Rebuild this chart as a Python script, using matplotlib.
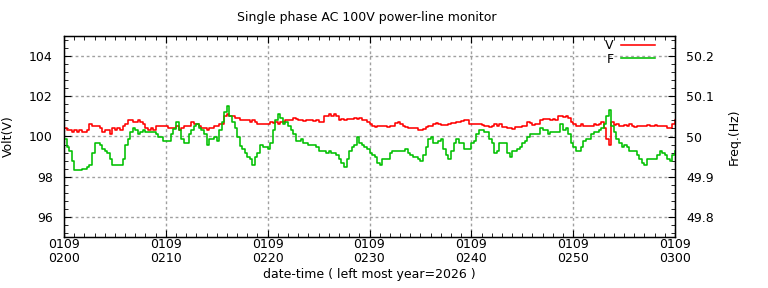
import numpy as np
import matplotlib
matplotlib.use("Agg")
import matplotlib.pyplot as plt
from matplotlib.ticker import MultipleLocator, FuncFormatter

# minutes after 01/09 02:00, one reading every 15 s
minutes = np.arange(241) * 0.25

volt = [
    100.4, 100.3, 100.3, 100.2, 100.3, 100.2, 100.3, 100.2, 100.2, 100.3,
    100.6, 100.5, 100.5, 100.5, 100.4, 100.2, 100.3, 100.3, 100.1, 100.4,
    100.3, 100.4, 100.3, 100.5, 100.6, 100.8, 100.8, 100.7, 100.7, 100.8,
    100.7, 100.6, 100.4, 100.3, 100.4, 100.3, 100.5, 100.5, 100.5, 100.5,
    100.5, 100.4, 100.4, 100.4, 100.5, 100.3, 100.4, 100.5, 100.5, 100.5,
    100.7, 100.6, 100.6, 100.5, 100.4, 100.4, 100.3, 100.4, 100.4, 100.5,
    100.5, 100.6, 100.6, 101.0, 101.1, 101.0, 101.0, 100.9, 100.9, 100.8,
    100.8, 100.8, 100.8, 100.7, 100.8, 100.7, 100.6, 100.6, 100.6, 100.6,
    100.6, 100.7, 100.65, 100.7, 100.6, 100.7, 100.7, 100.8, 100.8, 100.8,
    100.9, 100.85, 100.8, 100.8, 100.75, 100.8, 100.8, 100.8, 100.75, 100.8,
    100.7, 100.7, 101.0, 101.0, 101.1, 101.0, 101.1, 101.0, 100.8, 100.85,
    100.8, 100.85, 100.85, 100.85, 100.9, 100.85, 100.9, 100.8, 100.8, 100.7,
    100.6, 100.5, 100.45, 100.5, 100.5, 100.5, 100.5, 100.45, 100.5, 100.5,
    100.65, 100.7, 100.6, 100.5, 100.45, 100.4, 100.4, 100.4, 100.4, 100.3,
    100.3, 100.35, 100.45, 100.5, 100.5, 100.6, 100.65, 100.6, 100.55, 100.55,
    100.55, 100.6, 100.65, 100.65, 100.7, 100.7, 100.75, 100.8, 100.8, 100.6,
    100.6, 100.6, 100.6, 100.6, 100.55, 100.5, 100.5, 100.45, 100.5, 100.6,
    100.5, 100.6, 100.45, 100.45, 100.4, 100.4, 100.35, 100.45, 100.45, 100.45,
    100.5, 100.5, 100.7, 100.65, 100.55, 100.6, 100.6, 100.8, 100.85, 100.85,
    100.85, 100.8, 100.85, 100.8, 101.0, 101.0, 100.95, 101.0, 100.9, 100.7,
    100.6, 100.5, 100.5, 100.6, 100.5, 100.5, 100.5, 100.5, 100.6, 100.55,
    100.6, 100.7, 100.4, 99.9, 99.6, 100.7, 100.55, 100.6, 100.5, 100.5,
    100.55, 100.5, 100.6, 100.5, 100.45, 100.5, 100.5, 100.5, 100.5, 100.55,
    100.5, 100.5, 100.55, 100.5, 100.5, 100.5, 100.5, 100.4, 100.4, 100.6,
    100.8,
]

freq = [
    49.995, 49.975, 49.963, 49.94, 49.916, 49.916, 49.916, 49.92, 49.92, 49.925,
    49.93, 49.96, 49.983, 49.983, 49.98, 49.97, 49.965, 49.96, 49.945, 49.93,
    49.93, 49.93, 49.93, 49.945, 49.98, 49.995, 50.01, 50.02, 50.015, 50.005,
    50.01, 50.015, 50.01, 50.01, 50.01, 50.01, 50.005, 50.0, 50.0, 49.99,
    49.99, 49.99, 50.005, 50.018, 50.035, 50.015, 49.995, 49.985, 49.985, 50.005,
    50.015, 50.025, 50.03, 50.02, 50.015, 50.005, 49.98, 49.995, 49.995, 50.0,
    49.99, 50.015, 50.037, 50.06, 50.076, 50.05, 50.035, 50.02, 50.0, 49.977,
    49.97, 49.96, 49.95, 49.945, 49.93, 49.95, 49.96, 49.98, 49.975, 49.975,
    49.97, 49.985, 50.015, 50.04, 50.055, 50.045, 50.03, 50.035, 50.025, 50.015,
    50.005, 49.99, 49.99, 49.995, 49.985, 49.985, 49.98, 49.98, 49.98, 49.975,
    49.965, 49.965, 49.965, 49.96, 49.965, 49.96, 49.96, 49.955, 49.945, 49.935,
    49.925, 49.945, 49.965, 49.975, 49.98, 50.0, 49.985, 49.98, 49.975, 49.97,
    49.96, 49.955, 49.95, 49.935, 49.93, 49.945, 49.945, 49.945, 49.96, 49.965,
    49.965, 49.965, 49.965, 49.965, 49.97, 49.96, 49.955, 49.95, 49.95, 49.945,
    49.94, 49.955, 49.975, 49.995, 50.0, 49.985, 49.985, 49.99, 49.995, 49.97,
    49.955, 49.945, 49.965, 49.985, 49.995, 49.985, 49.985, 49.97, 49.97, 49.97,
    49.985, 49.99, 50.005, 50.015, 50.015, 50.01, 50.01, 49.995, 49.985, 49.96,
    49.965, 49.985, 49.985, 49.985, 49.96, 49.95, 49.965, 49.965, 49.97, 49.975,
    49.985, 49.99, 50.0, 50.005, 50.005, 50.005, 50.005, 50.02, 50.015, 50.015,
    50.005, 50.01, 50.01, 50.01, 50.01, 50.03, 50.015, 50.02, 50.005, 49.985,
    49.975, 49.965, 49.965, 49.975, 49.99, 49.995, 49.995, 50.005, 50.01, 50.01,
    50.015, 50.02, 50.03, 50.05, 50.065, 50.025, 50.01, 49.995, 49.985, 49.975,
    49.98, 49.975, 49.965, 49.965, 49.965, 49.955, 49.945, 49.935, 49.93, 49.945,
    49.945, 49.945, 49.945, 49.955, 49.965, 49.96, 49.955, 49.945, 49.94, 49.955,
    49.965,
]

xticks = [0, 10, 20, 30, 40, 50, 60]
xlabels = ["0109\n0200", "0109\n0210", "0109\n0220", "0109\n0230",
           "0109\n0240", "0109\n0250", "0109\n0300"]

plt.rcParams['font.family'] = 'DejaVu Sans'
plt.rcParams['font.size'] = 9

fig = plt.figure(figsize=(7.68, 2.88), dpi=100)
ax = fig.add_axes([64 / 768, 1 - 237 / 288, (675 - 64) / 768, (237 - 36) / 288])
ax2 = ax.twinx()

lv, = ax.plot(minutes, volt, color='#ff0000', lw=1.15, drawstyle='steps-post', label='V')
lf, = ax2.plot(minutes, freq, color='#00c000', lw=1.15, drawstyle='steps-post', label='F')

ax.set_xlim(0, 60)
ax.set_ylim(95, 105)
ax2.set_ylim(49.75, 50.25)

ax.set_xticks(xticks)
ax.set_xticklabels(xlabels, linespacing=1.05)
ax.xaxis.set_minor_locator(MultipleLocator(1))
ax.yaxis.set_major_locator(MultipleLocator(2))
ax.yaxis.set_minor_locator(MultipleLocator(0.4))
ax2.yaxis.set_major_locator(MultipleLocator(0.1))
ax2.yaxis.set_minor_locator(MultipleLocator(0.02))
ax2.yaxis.set_major_formatter(FuncFormatter(lambda v, p: "%g" % round(v, 2)))

ax.tick_params(axis='x', which='both', direction='in', top=True, pad=1)
ax.tick_params(axis='y', which='both', direction='in', right=False, pad=8)
ax2.tick_params(axis='y', which='both', direction='in', pad=8)
ax.tick_params(which='major', length=5)
ax.tick_params(which='minor', length=3)
ax2.tick_params(which='major', length=5)
ax2.tick_params(which='minor', length=3)

ax.grid(True, which='major', color='#a0a0a0', lw=1, dashes=(2, 2))
ax.set_axisbelow(True)

ax.set_ylabel("Volt(V)", labelpad=10)
ax2.set_ylabel("Freq.(Hz)", labelpad=10)
ax.set_xlabel("date-time ( left most year=2026 )", labelpad=2)
fig.text(0.478, 0.94, "Single phase AC 100V power-line monitor", ha='center', va='center')

ax2.legend([lv, lf], ['V', 'F'], loc='upper right', frameon=False, markerfirst=False,
           handlelength=2.7, labelspacing=0.05, borderaxespad=0.0,
           bbox_to_anchor=(0.975, 1.01), handletextpad=0.6)

for s in ax.spines.values():
    s.set_linewidth(1)

fig.savefig("out.png", dpi=100)
